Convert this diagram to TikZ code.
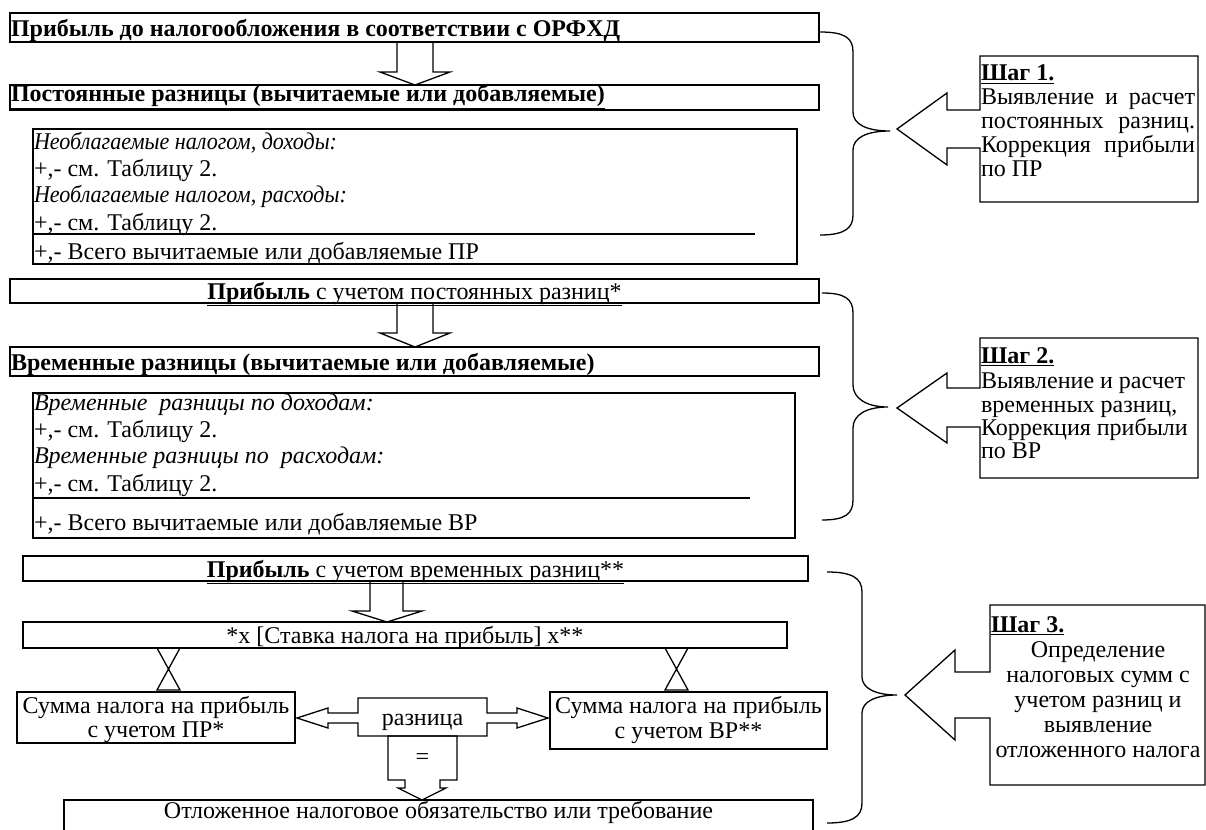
\documentclass[tikz,border=0pt]{standalone}
\usepackage{fontspec}
\setmainfont{Liberation Serif}
\begin{document}
\begin{tikzpicture}[x=1pt,y=-1pt,
  every node/.style={inner sep=0pt, outer sep=0pt},
  bx/.style={draw, line width=1.3pt, anchor=north west},
  ln/.style={line width=1.3pt, line join=miter},
  br/.style={line width=1.3pt},
  t/.style={font=\fontsize{24}{27}\selectfont, anchor=base west},
  tc/.style={font=\fontsize{24}{27}\selectfont, anchor=base}]
\useasboundingbox (0,0) rectangle (1206,829);
\clip (0,0) rectangle (1206,829);

% ---------- boxes ----------
\node[bx, minimum width=809pt, minimum height=29pt] (A) at (10,13) {};
\node[bx, minimum width=809pt, minimum height=25pt] (B) at (10,85) {};
\node[bx, minimum width=764pt, minimum height=135pt] (C) at (33,129) {};
\node[bx, minimum width=809pt, minimum height=24pt] (D) at (10,279) {};
\node[bx, minimum width=809pt, minimum height=29pt] (E) at (10,347) {};
\node[bx, minimum width=762pt, minimum height=145pt] (F) at (33,393) {};
\node[bx, minimum width=785pt, minimum height=25pt] (G) at (23,556) {};
\node[bx, minimum width=764pt, minimum height=26pt] (H) at (23,622) {};
\node[bx, minimum width=278pt, minimum height=51pt] (I) at (17,692) {};
\node[bx, minimum width=277pt, minimum height=57pt] (J) at (550,692) {};
\node[bx, minimum width=749pt, minimum height=45pt] (L) at (64,800) {};

% separator lines in the italic boxes
\coordinate (c1) at (33,234); \coordinate (c2) at (755,234);
\draw[ln] (c1) -- (c2);
\coordinate (f1) at (33,498); \coordinate (f2) at (750,498);
\draw[ln] (f1) -- (f2);

% ---------- block arrows ----------
\draw[ln] (397,42) -- (397,72) -- (380,72) -- (415,85) -- (450,72) -- (433,72) -- (433,42);
\draw[ln] (397,303) -- (397,333) -- (380,333) -- (415,347) -- (450,333) -- (433,333) -- (433,303);
\draw[ln] (370,581) -- (370,611) -- (352,611) -- (387,622) -- (422,611) -- (403,611) -- (403,581);

% collate shapes
\draw[ln] (157,648) -- (180,648) -- (157,690) -- (180,690) -- cycle;
\draw[ln] (665,648) -- (688,648) -- (665,690) -- (688,690) -- cycle;

% left-right arrow callout "разница"
\draw[ln] (358,698) -- (487,698) -- (487,713) -- (517,713) -- (517,708) -- (548,718)
  -- (517,728) -- (517,723) -- (487,723) -- (487,736) -- (358,736) -- (358,723)
  -- (328,723) -- (328,728) -- (297,718) -- (328,708) -- (328,713) -- (358,713) -- cycle;
\node[tc] (K) at (422.5,725) {разница};

% down arrow callout "="
\draw[ln] (388,736) -- (457,736) -- (457,780) -- (440,780) -- (440,788) -- (446,788)
  -- (422,800) -- (398,788) -- (405,788) -- (405,780) -- (388,780) -- cycle;
\node[tc] (eq) at (422.5,764) {=};

% ---------- braces ----------
\draw[br] (820,32) .. controls (845,32) and (853,38) .. (853,52) -- (853,112)
  .. controls (853,124) and (866,131) .. (890,131)
  .. controls (866,131) and (853,138) .. (853,150) -- (853,215)
  .. controls (853,228) and (845,235) .. (820,235);
\draw[br] (822,293) .. controls (845,293) and (853,299) .. (853,313) -- (853,385)
  .. controls (853,398) and (866,407) .. (888,407)
  .. controls (866,407) and (853,415) .. (853,428) -- (853,500)
  .. controls (853,514) and (845,520) .. (822,520);
\draw[br] (827,572) .. controls (852,572) and (862,578) .. (862,592) -- (862,677)
  .. controls (862,688) and (875,695) .. (897,695)
  .. controls (875,695) and (862,702) .. (862,713) -- (862,803)
  .. controls (862,817) and (852,823) .. (827,823);

% ---------- step callouts ----------
\draw[ln] (980,56) -- (1198,56) -- (1198,202) -- (980,202) -- (980,148) -- (947,148)
  -- (947,165) -- (897,129) -- (947,93) -- (947,110) -- (980,110) -- cycle;
\draw[ln] (980,338) -- (1198,338) -- (1198,478) -- (980,478) -- (980,427) -- (947,427)
  -- (947,443) -- (897,408) -- (947,373) -- (947,388) -- (980,388) -- cycle;
\draw[ln] (990,605) -- (1205,605) -- (1205,785) -- (990,785) -- (990,718) -- (955,718)
  -- (955,740) -- (905,695) -- (955,650) -- (955,672) -- (990,672) -- cycle;

% ---------- texts ----------
\node[t] (tA) at (11,37) {\textbf{Прибыль до налогообложения в соответствии с ОРФХД}};
\node[t] (tB) at (11,102) {\underline{\textbf{Постоянные разницы (вычитаемые или добавляемые)}}};
\node[t] (tC1) at (34,150) {\scalebox{0.92}[1]{\itshape Необлагаемые налогом, доходы:}};
\node[t] (tC2) at (34,176) {+,- см. Таблицу 2.};
\node[t] (tC3) at (34,202) {\scalebox{0.92}[1]{\itshape Необлагаемые налогом, расходы:}};
\node[t] (tC4) at (34,230) {+,- см. Таблицу 2.};
\node[t] (tC5) at (34,259) {+,- Всего вычитаемые или добавляемые ПР};
\node[tc] (tD) at (414.5,299) {\underline{\textbf{Прибыль} с учетом постоянных разниц*}};
\node[t] (tE) at (11,370) {\textbf{Временные разницы (вычитаемые или добавляемые)}};
\node[t] (tF1) at (34,410) {\itshape Временные\ \ разницы по доходам:};
\node[t] (tF2) at (34,437) {+,- см. Таблицу 2.};
\node[t] (tF3) at (34,463) {\itshape Временные разницы по\ \ расходам:};
\node[t] (tF4) at (34,491) {+,- см. Таблицу 2.};
\node[t] (tF5) at (34,530) {+,- Всего вычитаемые или добавляемые ВР};
\node[tc] (tG) at (415.5,577) {\underline{\textbf{Прибыль} с учетом временных разниц**}};
\node[tc] (tH) at (405,643) {*x [Ставка налога на прибыль] x**};
\node[tc] (tI1) at (156,713) {Сумма налога на прибыль};
\node[tc] (tI2) at (156,737) {с учетом ПР*};
\node[tc] (tJ1) at (688.5,713) {Сумма налога на прибыль};
\node[tc] (tJ2) at (688.5,738) {с учетом ВР**};
\node[tc] (tL) at (438.5,818) {Отложенное налоговое обязательство или требование};

\node[t] (s11) at (981,81) {\underline{\textbf{Шаг 1.}}};
\node[t] (s12) at (981,105) {\makebox[214pt][s]{Выявление и расчет}};
\node[t] (s13) at (981,129) {\makebox[214pt][s]{постоянных разниц.}};
\node[t] (s14) at (981,153) {\makebox[214pt][s]{Коррекция прибыли}};
\node[t] (s15) at (981,177) {по ПР};

\node[t] (s21) at (981,363) {\underline{\textbf{Шаг 2.}}};
\node[t] (s22) at (981,388) {Выявление и расчет};
\node[t] (s23) at (981,412) {временных разниц,};
\node[t] (s24) at (981,435) {Коррекция прибыли};
\node[t] (s25) at (981,458) {по ВР};

\node[t] (s31) at (991,632) {\underline{\textbf{Шаг 3.}}};
\node[tc] (s32) at (1098,657) {Определение};
\node[tc] (s33) at (1098,682) {налоговых сумм с};
\node[tc] (s34) at (1098,707) {учетом разниц и};
\node[tc] (s35) at (1098,732) {выявление};
\node[tc] (s36) at (1098,757) {отложенного налога};
\end{tikzpicture}
\end{document}
